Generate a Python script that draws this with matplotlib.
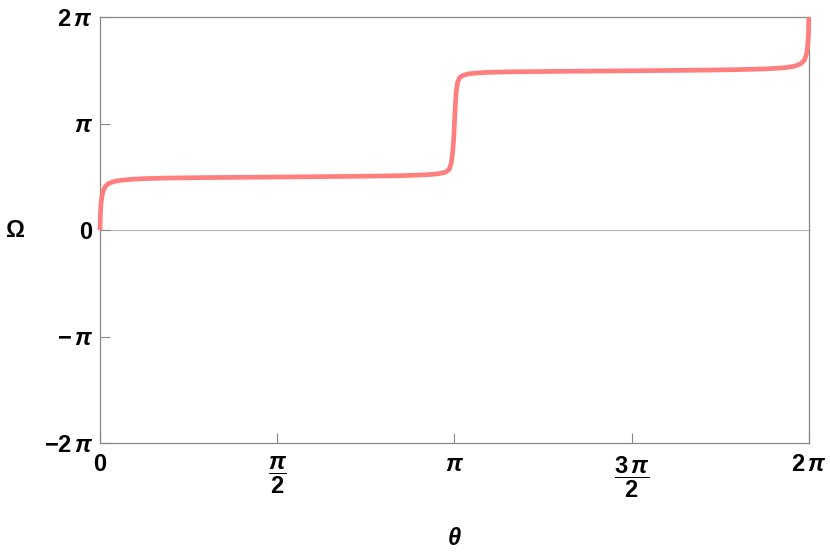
import numpy as np
import matplotlib
matplotlib.use('Agg')
import matplotlib.pyplot as plt

plt.rcParams['font.family'] = ['Liberation Sans', 'DejaVu Sans']
plt.rcParams['mathtext.fontset'] = 'custom'
plt.rcParams['mathtext.rm'] = 'Liberation Sans:bold'
plt.rcParams['mathtext.it'] = 'Liberation Sans:italic:bold'
plt.rcParams['mathtext.bf'] = 'Liberation Sans:bold'

# curve, both axes in units of pi
theta_pi = [0.0, 0.001, 0.003, 0.006, 0.01, 0.016, 0.025, 0.04, 0.06, 0.09, 0.13,
            0.2, 0.3, 0.45, 0.6, 0.75, 0.85, 0.92, 0.955, 0.975, 0.985, 0.991,
            0.995, 0.998, 1.0, 1.002, 1.005, 1.009, 1.015, 1.025, 1.04, 1.06,
            1.09, 1.15, 1.3, 1.5, 1.7, 1.8, 1.88, 1.93, 1.96, 1.978, 1.988,
            1.994, 1.997, 1.999, 2.0]
omega_pi = [0.0, 0.15, 0.26, 0.33, 0.38, 0.415, 0.44, 0.458, 0.469, 0.478, 0.485,
            0.49, 0.494, 0.498, 0.502, 0.507, 0.512, 0.52, 0.53, 0.545, 0.57, 0.63,
            0.73, 0.86, 1.0, 1.14, 1.3, 1.39, 1.435, 1.455, 1.468, 1.476,
            1.482, 1.487, 1.492, 1.497, 1.503, 1.508, 1.515, 1.525, 1.54, 1.565, 1.6,
            1.66, 1.74, 1.85, 2.0]

x_ticks = [0, 0.5, 1, 1.5, 2]
x_labels = ['$0$', r'$\dfrac{\pi}{2}$', r'$\pi$', r'$\dfrac{3\,\pi}{2}$', r'$2\,\pi$']
y_ticks = [-2, -1, 0, 1, 2]
y_labels = [r'$-2\,\pi$', r'$-\,\pi$', '$0$', r'$\pi$', r'$2\,\pi$']

fig = plt.figure(figsize=(8.3, 5.56), dpi=100)
ax = fig.add_axes([0.1205, 0.203, 0.854, 0.766])

ax.axhline(0, color='#b4b4b4', lw=0.8, zorder=1)
ax.plot(np.array(theta_pi) * np.pi, np.array(omega_pi) * np.pi,
        color='#ff7f7f', lw=3.4, solid_capstyle='butt', zorder=3, clip_on=False)

ax.set_xlim(0, 2 * np.pi)
ax.set_ylim(-2 * np.pi, 2 * np.pi)
ax.set_xticks(np.array(x_ticks) * np.pi)
ax.set_xticklabels(x_labels, fontsize=17, va='top')
ax.set_yticks(np.array(y_ticks) * np.pi)
ax.set_yticklabels(y_labels, fontsize=17)
ax.tick_params(direction='in', length=7, width=0.8, color='#888888', pad=5)
ax.tick_params(axis='x', pad=8)
for s in ax.spines.values():
    s.set_color('#888888')
    s.set_linewidth(0.9)

fig.text(0.018, 0.584, r'$\Omega$', fontsize=17, ha='center', va='center')
fig.text(0.548, 0.03, r'$\theta$', fontsize=17, ha='center', va='center')

fig.savefig('out.png', dpi=100)
